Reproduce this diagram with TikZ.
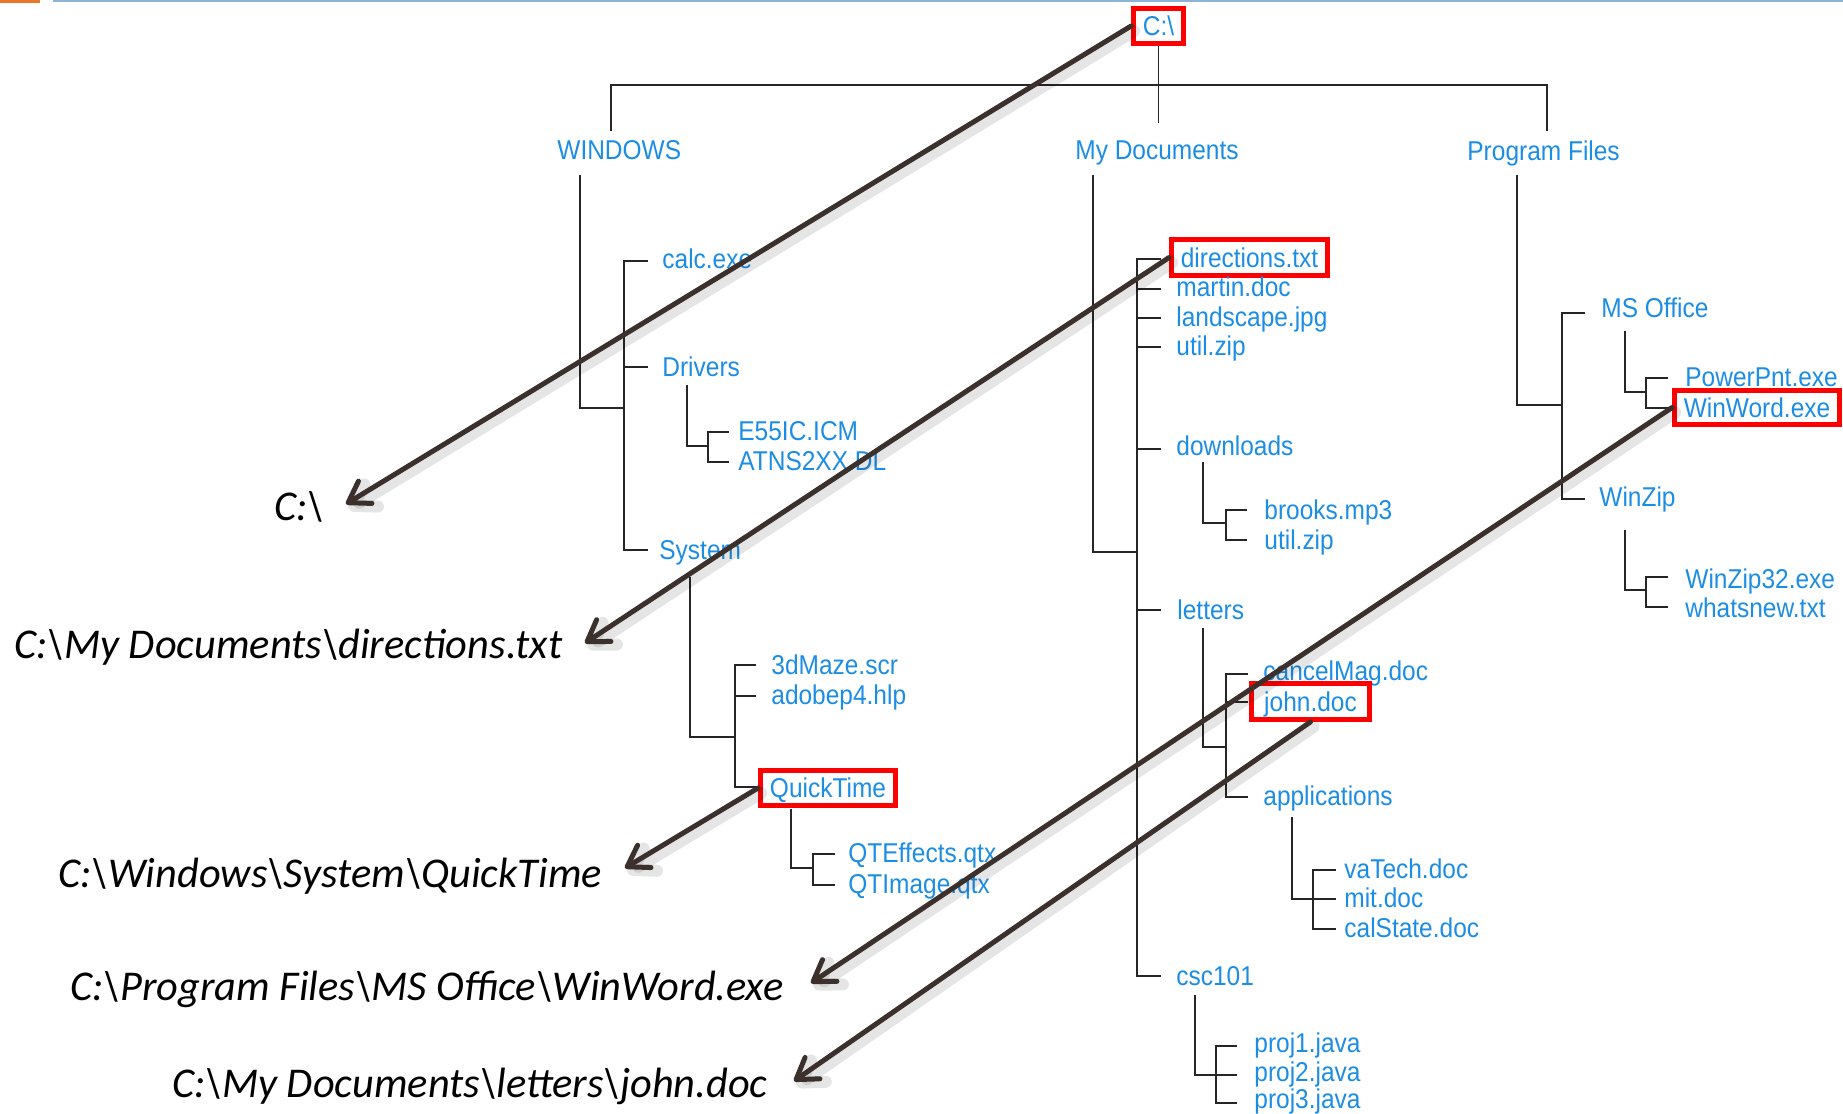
\documentclass[tikz,border=0pt]{standalone}
\usepackage{fontspec}
\newfontfamily\treefont[FakeStretch=0.9]{Liberation Sans}
\newfontfamily\pathfont{Carlito}
\usetikzlibrary{arrows.meta}
\definecolor{treeblue}{RGB}{28,141,228}
\definecolor{arrowbrown}{RGB}{59,48,43}
\definecolor{boxred}{RGB}{255,0,0}
\definecolor{topblue}{RGB}{140,180,215}
\definecolor{toporange}{RGB}{232,120,40}
\begin{document}
\begin{tikzpicture}[x=0.5pt,y=-0.5pt,
  tl/.style={anchor=base west, inner sep=0pt, yshift=-4.5pt, text=treeblue,
    font=\treefont\fontsize{13.6pt}{16pt}\selectfont},
  redbox/.style={draw=boxred, line width=2.4pt, inner sep=0pt, text=treeblue,
    text height=9.5pt, text depth=0pt, font=\treefont\fontsize{13.6pt}{16pt}\selectfont},
  plabel/.style={anchor=base west, inner sep=0pt, yshift=-6.5pt,
    font=\pathfont\itshape\fontsize{21.2pt}{25pt}\selectfont},
  treeline/.style={line width=0.8pt, draw=black!85},
  patharrow/.style={line width=2.5pt, draw=arrowbrown, line cap=round,
    -{Straight Barb[length=10pt,width=13pt,line cap=round,line join=round]}},
  shadowline/.style={line width=6pt, draw=black, opacity=0.10, line cap=round,
    -{Straight Barb[length=10pt,width=13pt,line cap=round,line join=round]},
    transform canvas={shift={(1.5pt,-2.5pt)}}}
]
\useasboundingbox (0,0) rectangle (1843,1114);
% top decoration
\fill[toporange] (0,0) rectangle (40,3);
\draw[topblue, line width=1pt] (53,1) -- (1843,1);

% ---------- nodes ----------
\node[redbox, minimum width=25pt, minimum height=17.5pt] (root) at (1158.5,26) {C:\textbackslash};
\node[tl] (win) at (557,150) {WINDOWS};
\node[tl] (mydoc) at (1075,150) {My Documents};
\node[tl] (prog) at (1467,151) {Program Files};

\node[tl] (calc) at (662,259) {calc.exe};
\node[tl] (drivers) at (662,367) {Drivers};
\node[tl] (system) at (659,550) {System};
\node[tl] (e55) at (738,431) {E55IC.ICM};
\node[tl] (atns) at (738,461) {ATNS2XX.DL};
\node[tl] (maze) at (771,665) {3dMaze.scr};
\node[tl] (adobe) at (771,695) {adobep4.hlp};
\node[redbox, minimum width=67.5pt, minimum height=17.5pt] (qt) at (828,788) {QuickTime};
\node[tl] (qte) at (848,853) {QTEffects.qtx};
\node[tl] (qti) at (848,884) {QTImage.qtx};

\node[redbox, minimum width=78pt, minimum height=18pt] (dir) at (1249.5,257.5) {directions.txt};
\node[tl] (martin) at (1176,287) {martin.doc};
\node[tl] (land) at (1176,317) {landscape.jpg};
\node[tl] (util) at (1176,346) {util.zip};
\node[tl] (down) at (1176,446) {downloads};
\node[tl] (brooks) at (1264,510) {brooks.mp3};
\node[tl] (util2) at (1264,540) {util.zip};
\node[tl] (letters) at (1177,610) {letters};
\node[tl] (cancel) at (1263,671) {cancelMag.doc};
\node[redbox, minimum width=59pt, minimum height=18pt] (john) at (1310.5,701.5) {john.doc};
\node[tl] (apps) at (1263,796) {applications};
\node[tl] (vatech) at (1344,869) {vaTech.doc};
\node[tl] (mit) at (1344,898) {mit.doc};
\node[tl] (cal) at (1344,928) {calState.doc};
\node[tl] (csc) at (1176,976) {csc101};
\node[tl] (p1) at (1254,1043) {proj1.java};
\node[tl] (p2) at (1254,1072) {proj2.java};
\node[tl] (p3) at (1254,1099) {proj3.java};

\node[tl] (mso) at (1601,308) {MS Office};
\node[tl] (ppt) at (1685,377) {PowerPnt.exe};
\node[redbox, minimum width=82.5pt, minimum height=17pt] (word) at (1757,407.5) {WinWord.exe};
\node[tl] (winzip) at (1599,497) {WinZip};
\node[tl] (wz32) at (1685,579) {WinZip32.exe};
\node[tl] (whats) at (1685,608) {whatsnew.txt};

% path labels
\node[plabel] (l1) at (274,507) {C:\textbackslash};
\node[plabel] (l2) at (14,645) {C:\textbackslash My Documents\textbackslash directions.txt};
\node[plabel] (l3) at (58,874) {C:\textbackslash Windows\textbackslash System\textbackslash QuickTime};
\node[plabel] (l4) at (70,987) {C:\textbackslash Program Files\textbackslash MS Office\textbackslash WinWord.exe};
\node[plabel] (l5) at (172,1084) {C:\textbackslash My Documents\textbackslash letters\textbackslash john.doc};

% ---------- tree lines ----------
\draw[treeline] (root.south) -- ++(0,77);
\draw[treeline] (611,131) -- (611,85) -- (1547,85) -- (1547,131);
% WINDOWS
\draw[treeline] (580,175) -- (580,408) -- (624,408);
\draw[treeline] (648,261) -- (624,261) -- (624,550) -- (648,550);
\draw[treeline] (624,367) -- (648,367);
\draw[treeline] (687,385) -- (687,446) -- (708,446);
\draw[treeline] (729,432) -- (708,432) -- (708,462) -- (729,462);
\draw[treeline] (690,577) -- (690,737) -- (735,737);
\draw[treeline] (756,665) -- (735,665) -- (735,787) -- (756,787);
\draw[treeline] (735,696) -- (756,696);
\draw[treeline] (791,809) -- (791,868) -- (813,868);
\draw[treeline] (835,854) -- (813,854) -- (813,885) -- (835,885);
% My Documents
\draw[treeline] (1093,175) -- (1093,552) -- (1137,552);
\draw[treeline] (1161,259) -- (1137,259) -- (1137,976) -- (1161,976);
\foreach \yy in {289,318,347,449,610} \draw[treeline] (1137,\yy) -- (1161,\yy);
\draw[treeline] (1203,462) -- (1203,523) -- (1226,523);
\draw[treeline] (1247,510) -- (1226,510) -- (1226,540) -- (1247,540);
\draw[treeline] (1203,628) -- (1203,747) -- (1226,747);
\draw[treeline] (1248,674) -- (1226,674) -- (1226,797) -- (1248,797);
\draw[treeline] (1226,702) -- (1248,702);
\draw[treeline] (1292,817) -- (1292,899) -- (1313,899);
\draw[treeline] (1336,870) -- (1313,870) -- (1313,929) -- (1336,929);
\draw[treeline] (1313,899) -- (1336,899);
\draw[treeline] (1195,995) -- (1195,1075) -- (1216,1075);
\draw[treeline] (1237,1046) -- (1216,1046) -- (1216,1103) -- (1237,1103);
\draw[treeline] (1216,1075) -- (1237,1075);
% Program Files
\draw[treeline] (1517,175) -- (1517,405) -- (1562,405);
\draw[treeline] (1585,313) -- (1562,313) -- (1562,499) -- (1585,499);
\draw[treeline] (1625,331) -- (1625,392) -- (1646,392);
\draw[treeline] (1668,378) -- (1646,378) -- (1646,408) -- (1668,408);
\draw[treeline] (1625,530) -- (1625,590) -- (1646,590);
\draw[treeline] (1668,577) -- (1646,577) -- (1646,607) -- (1668,607);

% ---------- arrows ----------
\coordinate (t1) at (346,504);
\coordinate (t2) at (585,643);
\coordinate (t3) at (625,868);
\coordinate (t4) at (811,983);
\coordinate (t5) at (794,1081);
\foreach \s/\t in {root.west/t1, dir.west/t2, qt.west/t3, word.west/t4, john.south/t5}{
  \draw[shadowline] (\s) -- (\t);
}
\foreach \s/\t in {root.west/t1, dir.west/t2, qt.west/t3, word.west/t4, john.south/t5}{
  \draw[patharrow] (\s) -- (\t);
}
\end{tikzpicture}
\end{document}
